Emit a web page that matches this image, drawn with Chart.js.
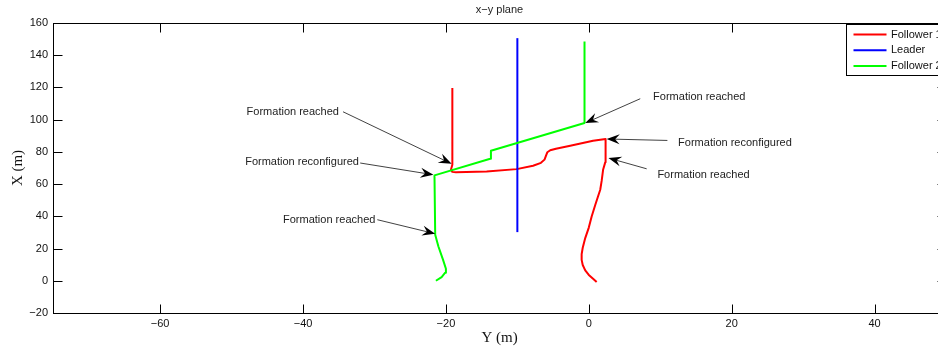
<!DOCTYPE html>
<html>
<head>
<meta charset="utf-8">
<title>x-y plane</title>
<script src="https://cdn.jsdelivr.net/npm/chart.js@4.4.1/dist/chart.umd.min.js"></script>
<style>
    html, body { margin: 0; padding: 0; background: #fff; overflow: hidden; }
    #marco { width: 938px; height: 348px; overflow: hidden; }
</style>
</head>
<body>
<div id="marco"><canvas id="grafica-xy" width="960" height="348"></canvas></div>
<script>
// ejes: horizontal = Y (m), vertical = X (m)
var xTicks = [-60, -40, -20, 0, 20, 40];
var yTicks = [-20, 0, 20, 40, 60, 80, 100, 120, 140, 160];

var serieNombres = ['Follower 1', 'Leader', 'Follower 2'];

var follower1PosY = [1.1, 0.6, 0.0, -0.5, -0.85, -1.0, -1.0, -0.85, -0.5, 0.0, 0.4, 0.9, 1.3, 1.6, 1.8, 2.0, 2.3, 2.4, 2.3,
    0.6, -2.6, -4.6, -5.4, -5.8, -6.0, -6.2, -6.7, -7.8, -10.1, -14.3, -18.6, -19.1, -19.3, -19.1, -19.1];
var follower1PosX = [-0.8, 1.2, 3.6, 6.5, 9.8, 13.0, 16.5, 20.5, 26.5, 33.0, 39.9, 47.0, 52.5, 56.5, 62.0, 68.9, 73.5, 76.2, 88.0,
    86.9, 83.8, 82.0, 81.0, 79.8, 77.5, 75.2, 73.2, 71.4, 69.3, 67.9, 67.3, 67.6, 68.9, 72.0, 119.6];

var leaderPosY = [-10.0, -10.0];
var leaderPosX = [30.2, 150.6];

var follower2PosY = [-21.4, -20.6, -20.1, -20.0, -20.4, -21.05, -21.5, -21.6, -13.8, -13.7, -0.6, -0.6];
var follower2PosX = [0.0, 2.3, 5.0, 7.5, 13.0, 21.3, 28.6, 65.4, 75.7, 80.7, 97.9, 148.5];

// anotaciones (texto, cola y punta de la flecha)
var notaTexto = ['Formation reached', 'Formation reconfigured', 'Formation reached', 'Formation reached', 'Formation reconfigured', 'Formation reached'];
var notaTextoY = [-47.9, -48.1, -42.8, 9.0, 12.5, 9.6];
var notaTextoX = [104.9, 73.7, 37.9, 114.0, 85.5, 65.4];
var notaColaY = [-34.4, -32.0, -29.6, 7.2, 11.0, 8.1];
var notaColaX = [104.9, 73.1, 37.9, 113.0, 87.1, 69.5];
var notaPuntaY = [-19.2, -21.75, -21.5, -0.5, 2.5, 2.75];
var notaPuntaX = [72.6, 65.8, 29.2, 97.9, 88.0, 76.2];

var SANS = '"Liberation Sans", Arial, sans-serif';
var SERIF = '"Liberation Serif", "Times New Roman", serif';

function puntos(h, v) {
    return h.map(function (x, i) { return {x: x, y: v[i]}; });
}

function etiqueta(v) {
    return v < 0 ? '\u2212' + Math.abs(v) : String(v);
}

function flecha(ctx, x0, y0, x1, y1) {
    var ang = Math.atan2(y1 - y0, x1 - x0);
    var largo = 13, medio = 5;
    ctx.beginPath();
    ctx.moveTo(x0, y0);
    ctx.lineTo(x1 - Math.cos(ang) * largo * 0.6, y1 - Math.sin(ang) * largo * 0.6);
    ctx.stroke();
    ctx.save();
    ctx.translate(x1, y1);
    ctx.rotate(ang);
    ctx.beginPath();
    ctx.moveTo(0, 0);
    ctx.lineTo(-largo, -medio);
    ctx.lineTo(-largo * 0.65, 0);
    ctx.lineTo(-largo, medio);
    ctx.closePath();
    ctx.fill();
    ctx.restore();
}

var marcoPlugin = {
    id: 'marcoMatlab',
    afterDraw: function (chart) {
        var ctx = chart.ctx, a = chart.chartArea;
        var sx = chart.scales.x, sy = chart.scales.y;
        var L = Math.round(a.left) + 0.5, R = Math.round(a.right) + 0.5;
        var T = Math.round(a.top) + 0.5, B = Math.round(a.bottom) + 0.5;
        ctx.save();

        // anotaciones
        ctx.font = '11px ' + SANS;
        ctx.textBaseline = 'middle';
        ctx.textAlign = 'left';
        for (var i = 0; i < notaTexto.length; i++) {
            ctx.fillStyle = '#222';
            ctx.fillText(notaTexto[i], sx.getPixelForValue(notaTextoY[i]), sy.getPixelForValue(notaTextoX[i]));
            ctx.fillStyle = '#000';
            ctx.strokeStyle = '#111';
            ctx.lineWidth = 0.8;
            flecha(ctx,
                sx.getPixelForValue(notaColaY[i]), sy.getPixelForValue(notaColaX[i]),
                sx.getPixelForValue(notaPuntaY[i]), sy.getPixelForValue(notaPuntaX[i]));
        }

        // caja y marcas hacia adentro
        ctx.strokeStyle = '#000';
        ctx.lineWidth = 1;
        ctx.strokeRect(L, T, R - L, B - T);
        ctx.beginPath();
        sx.ticks.forEach(function (t) {
            var p = Math.round(sx.getPixelForValue(t.value)) + 0.5;
            ctx.moveTo(p, B); ctx.lineTo(p, B - 9);
            ctx.moveTo(p, T); ctx.lineTo(p, T + 9);
        });
        sy.ticks.forEach(function (t) {
            var p = Math.round(sy.getPixelForValue(t.value)) + 0.5;
            ctx.moveTo(L, p); ctx.lineTo(L + 9, p);
            ctx.moveTo(R, p); ctx.lineTo(R - 9, p);
        });
        ctx.stroke();

        // leyenda
        var lx = Math.round(a.right) - 100 + 0.5, ly = T + 1;
        ctx.fillStyle = '#fff';
        ctx.fillRect(lx, ly, 110, 51);
        ctx.strokeStyle = '#000';
        ctx.strokeRect(lx, ly, 110, 51);
        ctx.font = '11px ' + SANS;
        chart.data.datasets.forEach(function (ds, k) {
            var yy = ly + 10 + k * 15.8;
            ctx.strokeStyle = ds.borderColor;
            ctx.lineWidth = 2;
            ctx.beginPath();
            ctx.moveTo(lx + 7, yy); ctx.lineTo(lx + 40, yy);
            ctx.stroke();
            ctx.fillStyle = '#111';
            ctx.fillText(ds.label, lx + 44.5, yy);
        });

        // titulo
        ctx.font = '11px ' + SANS;
        ctx.textAlign = 'center';
        ctx.fillStyle = '#222';
        ctx.fillText('x\u2212y plane', (a.left + a.right) / 2, 10);
        ctx.restore();
    }
};

var datos = {
    datasets: [
        {label: serieNombres[0], data: puntos(follower1PosY, follower1PosX), borderColor: '#ff0000', order: 3},
        {label: serieNombres[1], data: puntos(leaderPosY, leaderPosX), borderColor: '#0000ff', order: 2},
        {label: serieNombres[2], data: puntos(follower2PosY, follower2PosX), borderColor: '#00ff00', order: 1}
    ].map(function (d) {
        d.showLine = true;
        d.borderWidth = 2;
        d.pointRadius = 0;
        d.tension = 0;
        d.fill = false;
        d.borderJoinStyle = 'round';
        return d;
    })
};

var opciones = {
    responsive: false,
    animation: false,
    events: [],
    layout: {padding: {left: 0, top: 23, right: 14, bottom: 0}},
    plugins: {legend: {display: false}, tooltip: {enabled: false}},
    scales: {
        x: {
            type: 'linear', min: -75, max: 50,
            afterBuildTicks: function (s) { s.ticks = xTicks.map(function (v) { return {value: v}; }); },
            afterFit: function (s) { s.height = 35; },
            grid: {display: false, drawTicks: false},
            border: {display: false},
            ticks: {color: '#111', padding: 4, maxRotation: 0, font: {family: SANS, size: 11}, callback: etiqueta},
            title: {display: true, text: 'Y (m)', color: '#111', font: {family: SERIF, size: 15}, padding: {top: 0, bottom: 1}}
        },
        y: {
            type: 'linear', min: -20, max: 160,
            afterBuildTicks: function (s) { s.ticks = yTicks.map(function (v) { return {value: v}; }); },
            afterFit: function (s) { s.width = 53; },
            grid: {display: false, drawTicks: false},
            border: {display: false},
            ticks: {color: '#111', padding: 5, font: {family: SANS, size: 11}, callback: etiqueta},
            title: {display: true, text: 'X (m)', color: '#111', font: {family: SERIF, size: 15}, padding: {top: 9, bottom: 0}}
        }
    }
};

var ctx = document.getElementById('grafica-xy').getContext('2d');
new Chart(ctx, {type: 'scatter', data: datos, options: opciones, plugins: [marcoPlugin]});
</script>
</body>
</html>
